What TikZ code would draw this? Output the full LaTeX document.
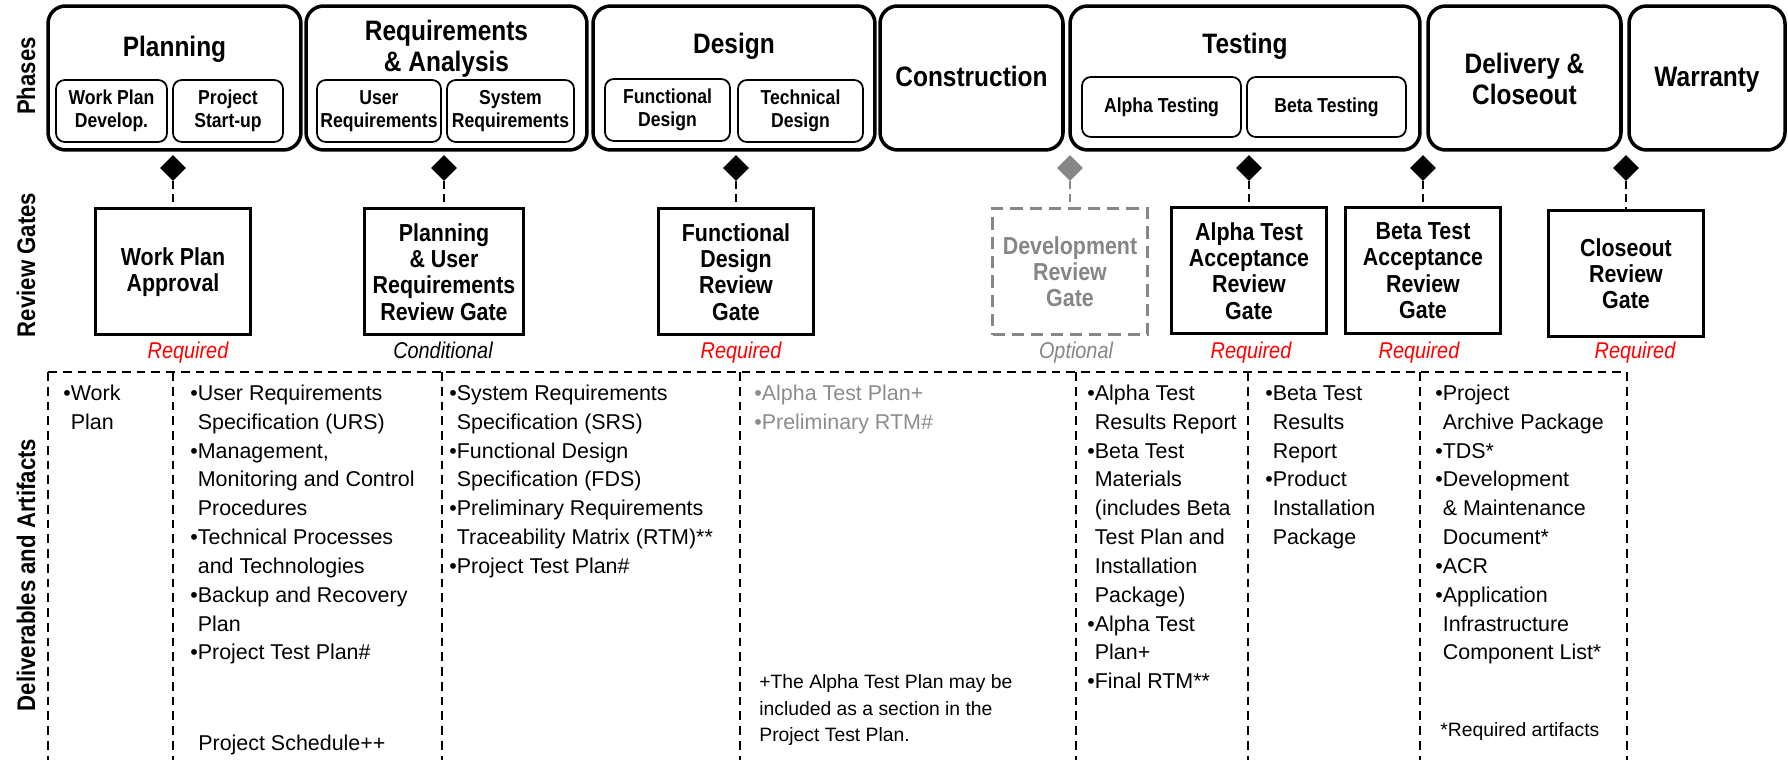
\documentclass[tikz,border=0pt]{standalone}
\usepackage{fontspec}
\setmainfont{Liberation Sans}
\newfontfamily\condsans[FakeStretch=0.87]{Liberation Sans}
\usetikzlibrary{positioning,shapes.geometric}
\definecolor{ReqRed}{HTML}{FF0000}
\definecolor{OptGray}{HTML}{868686}
\definecolor{SoftGray}{HTML}{8C8C8C}

\newcommand{\titlefont}{\condsans\bfseries\fontsize{16}{16}\selectfont}
\newcommand{\subfont}{\condsans\bfseries\fontsize{11.5}{13}\selectfont}
\newcommand{\gatefont}{\condsans\bfseries\fontsize{14}{15}\selectfont}
\newcommand{\sidefont}{\condsans\bfseries\fontsize{14.5}{16}\selectfont}
\newcommand{\statusfont}{\condsans\itshape\fontsize{13}{15}\selectfont}
\newcommand{\itemfont}{\fontsize{12.2}{16.4}\selectfont}
\newcommand{\notefont}{\fontsize{11}{15.3}\selectfont}
\newcommand{\bul}{\textbullet}
\newcommand{\ind}{\hphantom{\textbullet}}

\begin{document}
\begin{tikzpicture}[x=0.02cm,y=-0.02cm,
    phasebox/.style={draw,line width=2pt,rounded corners=10pt,minimum height=2.88cm,inner sep=0pt},
    title/.style={font=\titlefont,align=center,inner sep=0pt},
    subbox/.style={draw,line width=1pt,rounded corners=5pt,minimum height=1.24cm,inner sep=1pt,align=center,font=\subfont},
    gatebox/.style={draw,line width=1.7pt,minimum width=3.1cm,minimum height=2.52cm,inner sep=1pt,align=center,font=\gatefont},
    optgate/.style={gatebox,draw=OptGray,text=OptGray,dash pattern=on 7pt off 4pt},
    milestone/.style={diamond,fill=black,minimum width=0.52cm,minimum height=0.52cm,inner sep=0pt},
    gateline/.style={line width=1.1pt,dash pattern=on 4.5pt off 2.8pt},
    gridline/.style={line width=1.2pt,dash pattern=on 5pt off 3.4pt},
    status/.style={font=\statusfont,anchor=base,inner sep=0pt},
    side/.style={font=\sidefont,rotate=90,inner sep=0pt},
    items/.style={font=\itemfont,align=left,anchor=north west,inner sep=0pt},
    note/.style={font=\notefont,align=left,inner sep=0pt}]

  \useasboundingbox (0,0) rectangle (1788,760);

  % row labels
  \node[side] (lphase) at (26,76) {Phases};
  \node[side] (lgate) at (26,265) {Review Gates};
  \node[side] (ldeliv) at (26,575) {Deliverables and Artifacts};

  % phases
  \node[phasebox,minimum width=5.06cm] (plan) at (174.5,78) {};
  \node[phasebox,minimum width=5.62cm] (req) at (446.5,78) {};
  \node[phasebox,minimum width=5.64cm] (des) at (734,78) {};
  \node[phasebox,minimum width=3.66cm] (con) at (971.5,78) {};
  \node[phasebox,minimum width=7.0cm] (tst) at (1245,78) {};
  \node[phasebox,minimum width=3.86cm] (del) at (1524.5,78) {};
  \node[phasebox,minimum width=3.12cm] (war) at (1707,78) {};

  \node[title,anchor=base] (plant) at (174.5,57) {Planning};
  \node[title,anchor=north] (reqt) at (446.5,20) {\strut Requirements\\\& Analysis};
  \node[title,anchor=base] (dest) at (734,54) {Design};
  \node[title,anchor=base] (cont) at (971.5,87) {Construction};
  \node[title,anchor=base] (tstt) at (1245,54) {Testing};
  \node[title,anchor=north] (delt) at (1524.5,53) {\strut Delivery \&\\Closeout};
  \node[title,anchor=base] (wart) at (1707,87) {Warranty};

  \node[subbox,minimum width=2.22cm] (wpdev) at (111.5,111) {Work Plan\\Develop.};
  \node[subbox,minimum width=2.2cm] (start) at (228,111) {Project\\Start-up};
  \node[subbox,minimum width=2.48cm] (ureq) at (379,111) {User\\Requirements};
  \node[subbox,minimum width=2.54cm] (sreq) at (510.5,111) {System\\Requirements};
  \node[subbox,minimum width=2.5cm] (fdes) at (667.5,110) {Functional\\Design};
  \node[subbox,minimum width=2.5cm] (tdes) at (800.5,111) {Technical\\Design};
  \node[subbox,minimum width=3.18cm,minimum height=1.2cm] (alpha) at (1161.5,107) {Alpha Testing};
  \node[subbox,minimum width=3.18cm,minimum height=1.2cm] (beta) at (1326.5,107) {Beta Testing};

  % review gates
  \node[milestone] (m1) at (173,168) {};
  \node[milestone] (m2) at (444,168) {};
  \node[milestone] (m3) at (736,168) {};
  \node[milestone,fill=OptGray] (m4) at (1070,168) {};
  \node[milestone] (m5) at (1249,168) {};
  \node[milestone] (m6) at (1423,168) {};
  \node[milestone] (m7) at (1626,168) {};

  \node[gatebox,below=0.52cm of m1] (g1) {Work Plan\\Approval};
  \node[gatebox,minimum width=3.2cm,below=0.52cm of m2] (g2) {Planning\\\& User\\Requirements\\Review Gate};
  \node[gatebox,below=0.52cm of m3] (g3) {Functional\\Design\\Review\\Gate};
  \node[optgate,below=0.52cm of m4] (g4) {Development\\Review\\Gate};
  \node[gatebox,below=0.5cm of m5] (g5) {Alpha Test\\Acceptance\\Review\\Gate};
  \node[gatebox,below=0.5cm of m6] (g6) {Beta Test\\Acceptance\\Review\\Gate};
  \node[gatebox,below=0.56cm of m7] (g7) {Closeout\\Review\\Gate};

  \foreach \i in {1,2,3,5,6,7}
    \draw[gateline] (m\i) -- (g\i);
  \draw[gateline,draw=OptGray] (m4) -- (g4);

  \node[status,text=ReqRed] (s1) at (188,358) {Required};
  \node[status] (s2) at (443,358) {Conditional};
  \node[status,text=ReqRed] (s3) at (741,358) {Required};
  \node[status,text=OptGray] (s4) at (1076,358) {Optional};
  \node[status,text=ReqRed] (s5) at (1251,358) {Required};
  \node[status,text=ReqRed] (s6) at (1419,358) {Required};
  \node[status,text=ReqRed] (s7) at (1635,358) {Required};

  % deliverables grid
  \draw[gridline] (48,372) -- (1627,372);
  \foreach \gx in {48,173,442,740,1076,1248,1420,1627}
    \draw[gridline] (\gx,372) -- (\gx,760);

  \node[items] (d1) at (63,380) {\strut\bul Work\\\ind Plan};
  \node[items] (d2) at (190,380) {\strut\bul User Requirements\\\ind Specification (URS)\\
    \bul Management,\\\ind Monitoring and Control\\\ind Procedures\\
    \bul Technical Processes\\\ind and Technologies\\
    \bul Backup and Recovery\\\ind Plan\\\bul Project Test Plan\#};
  \node[font=\itemfont,anchor=base west,inner sep=0pt] (sched) at (198,750) {Project Schedule++};
  \node[items] (d3) at (449,380) {\strut\bul System Requirements\\\ind Specification (SRS)\\
    \bul Functional Design\\\ind Specification (FDS)\\
    \bul Preliminary Requirements\\\ind Traceability Matrix (RTM)**\\
    \bul Project Test Plan\#};
  \node[items,text=SoftGray] (d4) at (754,380) {\strut\bul Alpha Test Plan+\\\bul Preliminary RTM\#};
  \node[note,anchor=north west] (n4) at (759,669) {\strut+The Alpha Test Plan may be\\included as a section in the\\Project Test Plan.};
  \node[items] (d5) at (1087,380) {\strut\bul Alpha Test\\\ind Results Report\\
    \bul Beta Test\\\ind Materials\\\ind (includes Beta\\\ind Test Plan and\\\ind Installation\\\ind Package)\\
    \bul Alpha Test\\\ind Plan+\\\bul Final RTM**};
  \node[items] (d6) at (1265,380) {\strut\bul Beta Test\\\ind Results\\\ind Report\\
    \bul Product\\\ind Installation\\\ind Package};
  \node[items] (d7) at (1435,380) {\strut\bul Project\\\ind Archive Package\\\bul TDS*\\
    \bul Development\\\ind \& Maintenance\\\ind Document*\\\bul ACR\\
    \bul Application\\\ind Infrastructure\\\ind Component List*};
  \node[note,anchor=base west] (n7) at (1440,736) {*Required artifacts};
\end{tikzpicture}
\end{document}
